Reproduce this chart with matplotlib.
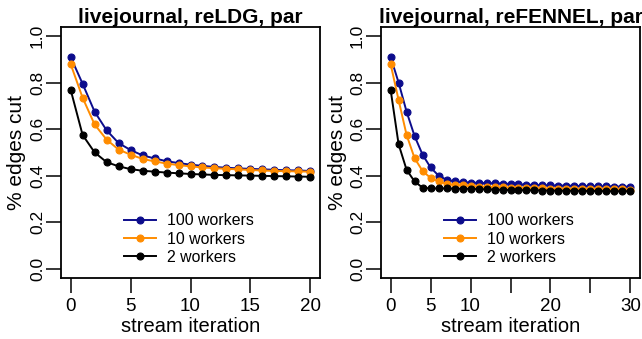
import matplotlib
matplotlib.use("Agg")
import matplotlib.pyplot as plt

plt.rcParams['font.family'] = ['Liberation Sans', 'DejaVu Sans']

# ---- data ----
titles = ["livejournal, reLDG, par", "livejournal, reFENNEL, par"]
labels = ["100 workers", "10 workers", "2 workers"]

ldg_100 = [0.91, 0.795, 0.675, 0.595, 0.54, 0.51, 0.487, 0.474, 0.462, 0.454, 0.447,
           0.442, 0.437, 0.434, 0.431, 0.429, 0.427, 0.425, 0.423, 0.422, 0.42]
ldg_10 = [0.88, 0.735, 0.62, 0.555, 0.512, 0.49, 0.472, 0.461, 0.452, 0.445, 0.44,
          0.435, 0.432, 0.429, 0.427, 0.424, 0.422, 0.42, 0.419, 0.418, 0.417]
ldg_2 = [0.77, 0.575, 0.50, 0.458, 0.44, 0.428, 0.421, 0.417, 0.413, 0.41, 0.407,
         0.405, 0.403, 0.402, 0.401, 0.40, 0.399, 0.398, 0.397, 0.396, 0.395]

fen_100 = [0.91, 0.80, 0.675, 0.57, 0.49, 0.435, 0.40, 0.382, 0.375, 0.372, 0.37,
           0.369, 0.368, 0.367, 0.366, 0.364, 0.362, 0.361, 0.36, 0.359, 0.358,
           0.357, 0.357, 0.356, 0.355, 0.355, 0.354, 0.354, 0.353, 0.353, 0.352]
fen_10 = [0.88, 0.725, 0.575, 0.475, 0.42, 0.39, 0.375, 0.365, 0.36, 0.358, 0.355,
          0.353, 0.352, 0.35, 0.349, 0.348, 0.347, 0.346, 0.345, 0.345, 0.344,
          0.344, 0.343, 0.343, 0.342, 0.342, 0.342, 0.341, 0.341, 0.341, 0.34]
fen_2 = [0.77, 0.535, 0.425, 0.375, 0.348, 0.345, 0.345, 0.345, 0.344, 0.344, 0.343,
         0.342, 0.341, 0.340, 0.339, 0.338, 0.338, 0.337, 0.337, 0.336, 0.336,
         0.335, 0.335, 0.335, 0.334, 0.334, 0.334, 0.333, 0.333, 0.333, 0.333]

xticks_ldg = [0, 5, 10, 15, 20]
xticklabels_ldg = ["0", "5", "10", "15", "20"]
xticks_fen = [0, 5, 10, 15, 20, 25, 30]
xticklabels_fen = ["0", "5", "10", "", "20", "", "30"]
yticks = [0.0, 0.2, 0.4, 0.6, 0.8, 1.0]
yticklabels = ["0.0", "0.2", "0.4", "0.6", "0.8", "1.0"]

colors = ["#0c0c8c", "#ff8c00", "#000000"]

W, H = 642, 339
fig = plt.figure(figsize=(W / 100, H / 100), dpi=100)

AX_B, AX_H, AX_W = 61, 251.3, 259

# (title, series, ticks, ticklabels, axes left px, ylabel centre px)
panels = [
    (titles[0], [ldg_100, ldg_10, ldg_2], xticks_ldg, xticklabels_ldg, 61, 16.5),
    (titles[1], [fen_100, fen_10, fen_2], xticks_fen, xticklabels_fen, 381, 337.5),
]

for title, series, xt, xtl, x0, ylab_x in panels:
    ax = fig.add_axes([x0 / W, AX_B / H, AX_W / W, AX_H / H])
    n = len(series[0])
    xs = list(range(n))
    xmax = n - 1
    for ys, c, lab in zip(series, colors, labels):
        ax.plot(xs, ys, color=c, lw=1.4, marker='o', ms=5.0, mew=0.8,
                mec=c, mfc=c, label=lab)
    pad = 0.04 * xmax
    ax.set_xlim(-pad, xmax + pad)
    ax.set_ylim(-0.04, 1.04)
    ax.set_xticks(xt)
    ax.set_xticklabels(xtl, fontsize=13.5)
    ax.set_yticks(yticks)
    ax.set_yticklabels(yticklabels, rotation=90, va='center', fontsize=12.5)
    ax.tick_params(axis='both', direction='out', length=11, width=1.1,
                   colors='black')
    ax.tick_params(axis='x', pad=3.5)
    ax.tick_params(axis='y', pad=0.5)
    for s in ax.spines.values():
        s.set_linewidth(1.3)
    ax.set_title(title, fontsize=15, fontweight='bold', pad=0)
    ax.set_xlabel("stream iteration", fontsize=14.5, va='baseline')
    ax.xaxis.set_label_coords(0.5, (H - 331.5 - AX_B) / AX_H)
    ax.set_ylabel("% edges cut", fontsize=15, va='center')
    ax.yaxis.set_label_coords((ylab_x - x0) / AX_W, 0.5)
    ax.legend(loc='center left', bbox_to_anchor=(0.243, 0.155), frameon=False,
              fontsize=11.4, handlelength=2.0, handletextpad=0.75,
              labelspacing=0.2, borderpad=0, borderaxespad=0)

fig.savefig("out.png", dpi=100)
